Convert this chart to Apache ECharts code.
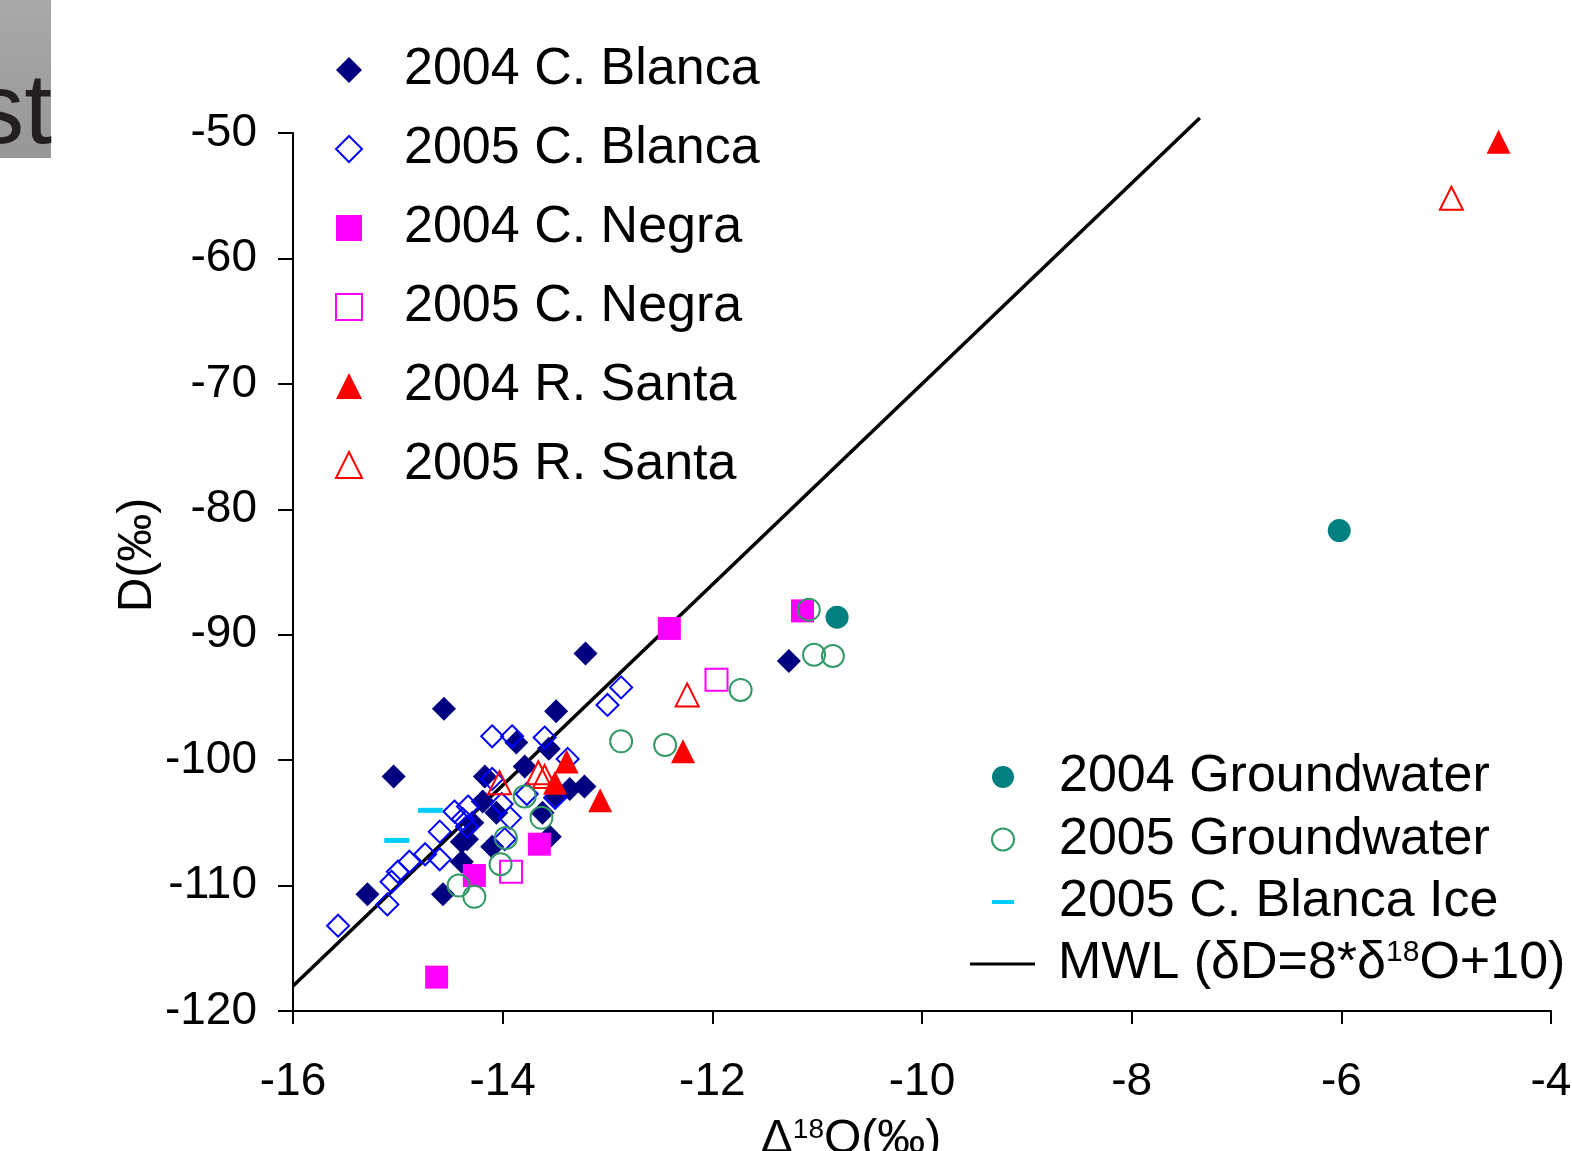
<!DOCTYPE html>
<html>
<head>
<meta charset="utf-8">
<script src="https://cdn.jsdelivr.net/npm/echarts@6/dist/echarts.min.js"></script>
<style>
  html, body { margin: 0; padding: 0; background: #fff; }
  #chart { width: 1572px; height: 1151px; }
</style>
</head>
<body>
<div id="chart"></div>
<script>
// δ18O (x) vs δD (y), per‰, for each sample group
const blanca2004 = [
  [-14.56, -95.9], [-13.49, -96.1], [-15.04, -101.3], [-13.21, -91.5], [-11.27, -92.1],
  [-13.87, -98.6], [-13.56, -99.1], [-13.79, -100.5], [-14.17, -101.3], [-13.22, -102.1],
  [-13.36, -102.3], [-14.19, -103.3], [-14.06, -104.2], [-14.29, -105.0], [-14.34, -106.3],
  [-14.10, -106.9], [-13.55, -106.1], [-13.62, -104.2], [-14.39, -108.1], [-15.29, -110.7],
  [-14.57, -110.7], [-13.49, -102.9], [-14.39, -106.5]
];
const blanca2005 = [
  [-15.57, -113.2], [-15.10, -111.5], [-15.06, -109.7], [-15.00, -108.9], [-14.89, -108.1],
  [-14.74, -107.5], [-14.60, -107.9], [-14.60, -105.7], [-14.38, -104.7], [-14.33, -103.7],
  [-14.34, -105.3], [-14.10, -98.1], [-13.91, -98.1], [-13.60, -98.2], [-13.38, -99.9],
  [-14.10, -101.5], [-14.01, -103.5], [-13.93, -104.6], [-13.98, -106.3], [-13.77, -102.7],
  [-13.50, -103.0], [-13.00, -95.6], [-12.87, -94.2], [-14.46, -104.1]
];
const negra2004 = [[-12.41, -89.5], [-11.14, -88.1], [-13.65, -106.7], [-14.27, -109.2], [-14.63, -117.3]];
const negra2005 = [[-11.96, -93.6], [-13.92, -108.9]];
const santa2004 = [[-4.50, -50.7], [-12.28, -99.3], [-13.07, -103.2], [-13.39, -100.1], [-13.50, -101.8]];
const santa2005 = [[-4.95, -55.2], [-12.24, -94.8], [-14.03, -101.8], [-13.66, -101.0], [-13.60, -101.3]];
const groundwater2004 = [[-6.02, -81.7], [-10.81, -88.6]];
const groundwater2005 = [
  [-11.08, -88.0], [-11.03, -91.6], [-10.85, -91.7], [-11.73, -94.4], [-12.87, -98.5],
  [-12.45, -98.8], [-13.79, -102.9], [-13.63, -104.6], [-13.97, -106.2], [-14.02, -108.3],
  [-14.42, -110.0], [-14.27, -110.9]
];
const blancaIce2005 = [[-14.69, -104.0], [-15.01, -106.4]];
// Meteoric water line δD = 8·δ18O + 10, endpoints
const mwl = [[-16, -118], [-7.35, -48.8]];

const xTicks = { min: -16, max: -4, step: 2 };
const yTicks = { min: -120, max: -50, step: 10 };

const FONT = '"Liberation Sans", Arial, sans-serif';

const chart = echarts.init(document.getElementById('chart'), null, { renderer: 'canvas' });

function hollow(color) {
  return { color: 'rgba(0,0,0,0)', borderColor: color, borderWidth: 2, opacity: 1 };
}
function solid(color) {
  return { color: color, opacity: 1 };
}

const option = {
  backgroundColor: '#fff',
  animation: false,
  textStyle: { fontFamily: FONT, color: '#000' },
  grid: { left: 293, right: 21, top: 133, bottom: 140, outerBoundsMode: 'none', containLabel: false },
  xAxis: {
    type: 'value',
    min: xTicks.min, max: xTicks.max, interval: xTicks.step,
    splitLine: { show: false },
    axisLine: { onZero: false, lineStyle: { color: '#000', width: 2 } },
    axisTick: { inside: false, length: 13, lineStyle: { color: '#000', width: 2 } },
    axisLabel: { fontSize: 46, color: '#000', margin: 48, fontFamily: FONT },
    name: 'Δ{s|18}O(‰)',
    nameLocation: 'middle',
    nameGap: 105,
    nameMoveOverlap: false,
    nameTextStyle: {
      fontSize: 48, color: '#000', fontFamily: FONT, padding: [0, 142, 0, 0],
      rich: { s: { fontSize: 28, lineHeight: 22, verticalAlign: 'top', fontFamily: FONT, color: '#000' } }
    }
  },
  yAxis: {
    type: 'value',
    min: yTicks.min, max: yTicks.max, interval: yTicks.step,
    splitLine: { show: false },
    axisLine: { onZero: false, lineStyle: { color: '#000', width: 2 } },
    axisTick: { inside: false, length: 15, lineStyle: { color: '#000', width: 2 } },
    axisLabel: { fontSize: 46, color: '#000', margin: 36, fontFamily: FONT },
    name: 'D(‰)',
    nameLocation: 'middle',
    nameRotate: 90,
    nameGap: 131,
    nameMoveOverlap: false,
    nameTextStyle: { fontSize: 48, color: '#000', fontFamily: FONT, padding: [0, 0, 0, 34] }
  },
  legend: [
    {
      orient: 'vertical', left: 335, top: 44, padding: 0,
      itemWidth: 26, itemHeight: 26, itemGap: 27,
      textStyle: { fontSize: 52, lineHeight: 52, color: '#000', fontFamily: FONT, padding: [0, 0, 0, 37] },
      data: ['2004 C. Blanca', '2005 C. Blanca', '2004 C. Negra', '2005 C. Negra', '2004 R. Santa', '2005 R. Santa']
    },
    {
      orient: 'vertical', left: 991, top: 751, padding: 0,
      itemWidth: 22, itemHeight: 22, itemGap: 10.5,
      textStyle: { fontSize: 52, lineHeight: 52, color: '#000', fontFamily: FONT, padding: [0, 0, 0, 40] },
      data: [
        '2004 Groundwater', '2005 Groundwater',
        { name: '2005 C. Blanca Ice', icon: 'path://M0,0h22v4h-22z' }
      ]
    },
    {
      orient: 'vertical', left: 970, top: 938, padding: 0,
      itemWidth: 65, itemHeight: 22,
      textStyle: {
        fontSize: 52, lineHeight: 52, color: '#000', fontFamily: FONT, padding: [0, 0, 0, 18],
        rich: {
          a: { fontSize: 52, fontFamily: FONT, color: '#000' },
          s: { fontSize: 30, lineHeight: 22, verticalAlign: 'top', fontFamily: FONT, color: '#000' }
        }
      },
      formatter: function () { return '{a|MWL (δD=8*δ}{s|18}{a|O+10)}'; },
      data: [{ name: 'MWL', icon: 'path://M0,0h65v3h-65z' }]
    }
  ],
  graphic: [
    {
      type: 'rect', left: 0, top: 0, z: 100,
      shape: { width: 51, height: 158 },
      style: {
        fill: new echarts.graphic.LinearGradient(0, 0, 0, 1, [
          { offset: 0, color: '#a9a9a9' }, { offset: 1, color: '#979797' }
        ])
      }
    },
    {
      type: 'text', z: 101, x: 52, y: 65,
      style: { text: 'st', font: '100px "Liberation Sans", Arial, sans-serif', fill: '#231f20', align: 'right', verticalAlign: 'top' }
    }
  ],
  series: [
    {
      name: 'MWL', type: 'line', data: mwl, symbol: 'none', clip: false, silent: true,
      lineStyle: { color: '#000', width: 3.5 }, itemStyle: { color: '#000' }, z: 1
    },
    { name: '2004 C. Blanca', type: 'scatter', data: blanca2004, symbol: 'diamond', symbolSize: 24, itemStyle: solid('#000080') },
    { name: '2005 C. Blanca', type: 'scatter', data: blanca2005, symbol: 'diamond', symbolSize: 22, itemStyle: hollow('#0000ff') },
    { name: '2004 C. Negra', type: 'scatter', data: negra2004, symbol: 'rect', symbolSize: 23, itemStyle: solid('#ff00ff') },
    { name: '2005 C. Negra', type: 'scatter', data: negra2005, symbol: 'rect', symbolSize: 22, itemStyle: hollow('#ff00ff') },
    { name: '2004 R. Santa', type: 'scatter', data: santa2004, symbol: 'triangle', symbolSize: 24, itemStyle: solid('#ff0000') },
    { name: '2005 R. Santa', type: 'scatter', data: santa2005, symbol: 'triangle', symbolSize: 23, itemStyle: hollow('#ff0000') },
    { name: '2004 Groundwater', type: 'scatter', data: groundwater2004, symbol: 'circle', symbolSize: 23, itemStyle: solid('#008080') },
    { name: '2005 Groundwater', type: 'scatter', data: groundwater2005, symbol: 'circle', symbolSize: 22, itemStyle: hollow('#339966') },
    { name: '2005 C. Blanca Ice', type: 'scatter', data: blancaIce2005, symbol: 'rect', symbolSize: [25, 5], itemStyle: solid('#00ccff') }
  ]
};

chart.setOption(option);
</script>
</body>
</html>
